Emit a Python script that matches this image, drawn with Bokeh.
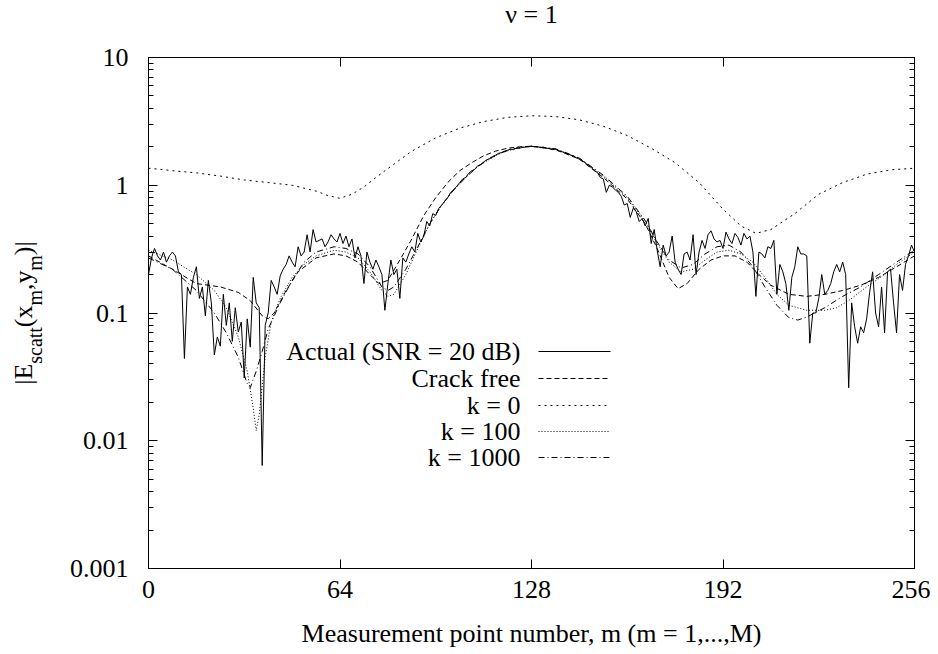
from bokeh.plotting import figure
from bokeh.layouts import row, column
from bokeh.models import (Range1d, FixedTicker, LinearAxis, LogAxis,
                          CustomJSTickFormatter, Label, Arrow)
from bokeh.core.properties import value
from bokeh.embed import file_html
from bokeh.resources import INLINE

# ---------------- data ----------------
actual_m = [0, 1, 2, 3, 4, 5, 6, 7, 8, 9, 10, 11, 12, 13, 14, 15, 16, 17, 18, 19,
            20, 21, 22, 23, 24, 25, 26, 27, 28, 29, 30, 31, 32, 33, 34, 35, 36, 37, 38, 39,
            40, 41, 42, 43, 44, 45, 46, 47, 48, 49, 50, 51, 52, 53, 54, 55, 56, 57, 58, 59,
            60, 61, 62, 63, 64, 65, 66, 67, 68, 69, 70, 71, 72, 73, 74, 75, 76, 77, 78, 79,
            80, 81, 82, 83, 84, 85, 86, 87, 88, 89, 90, 91, 92, 93, 94, 95, 96, 97, 98, 99,
            100, 101, 102, 103, 104, 105, 106, 107, 108, 109, 110, 111, 112, 113, 114, 115,
            116, 117, 118, 119, 120, 121, 122, 123, 124, 125, 126, 127, 128, 129, 130, 131,
            132, 133, 134, 135, 136, 137, 138, 139, 140, 141, 142, 143, 144, 145, 146, 147,
            148, 149, 150, 151, 152, 153, 154, 155, 156, 157, 158, 159, 160, 161, 162, 163,
            164, 165, 166, 167, 168, 169, 170, 171, 172, 173, 174, 175, 176, 177, 178, 179,
            180, 181, 182, 183, 184, 185, 186, 187, 188, 189, 190, 191, 192, 193, 194, 195,
            196, 197, 198, 199, 200, 201, 202, 203, 204, 205, 206, 207, 208, 209, 210, 211,
            212, 213, 214, 215, 216, 217, 218, 219, 220, 221, 222, 223, 224, 225, 226, 227,
            228, 229, 230, 231, 232, 233, 234, 235, 236, 237, 238, 239, 240, 241, 242, 243,
            244, 245, 246, 247, 248, 249, 250, 251, 252, 253, 254, 255, 256]
actual_v = [0.20, 0.27, 0.32, 0.28, 0.26, 0.30, 0.25, 0.28, 0.30, 0.28, 0.21, 0.20, 0.044, 0.16, 0.14, 0.19, 0.23, 0.13, 0.16, 0.095,
            0.18, 0.12, 0.047, 0.065, 0.055, 0.14, 0.08, 0.12, 0.06, 0.11, 0.071, 0.085, 0.031, 0.09, 0.054, 0.19, 0.12, 0.11, 0.0064, 0.08,
            0.10, 0.18, 0.16, 0.14, 0.195, 0.22, 0.24, 0.28, 0.25, 0.23, 0.33, 0.28, 0.30, 0.41, 0.30, 0.45, 0.36, 0.37, 0.38, 0.33,
            0.36, 0.41, 0.38, 0.36, 0.42, 0.35, 0.40, 0.33, 0.38, 0.27, 0.33, 0.28, 0.17, 0.30, 0.25, 0.22, 0.26, 0.23, 0.20, 0.105,
            0.17, 0.26, 0.20, 0.22, 0.13, 0.27, 0.25, 0.29, 0.33, 0.30, 0.42, 0.36, 0.40, 0.52, 0.48, 0.60, 0.58, 0.66, 0.70, 0.75,
            0.80, 0.88, 0.92, 0.98, 1.05, 1.12, 1.15, 1.24, 1.30, 1.33, 1.42, 1.45, 1.52, 1.58, 1.62, 1.68,
            1.72, 1.78, 1.80, 1.85, 1.88, 1.92, 1.90, 1.96, 1.95, 1.98, 1.99, 2.00, 2.02, 2.00, 2.01, 1.97,
            1.99, 1.95, 1.94, 1.90, 1.92, 1.86, 1.84, 1.80, 1.78, 1.72, 1.70, 1.64, 1.60, 1.55, 1.50, 1.42,
            1.38, 1.30, 1.26, 1.15, 1.12, 0.88, 1.00, 0.97, 0.92, 0.88, 0.82, 0.70, 0.72, 0.56, 0.66, 0.62,
            0.52, 0.55, 0.48, 0.55, 0.35, 0.45, 0.31, 0.23, 0.34, 0.28, 0.30, 0.40, 0.25, 0.22, 0.20, 0.29,
            0.30, 0.26, 0.41, 0.20, 0.30, 0.37, 0.32, 0.41, 0.44, 0.38, 0.36, 0.37, 0.32, 0.43, 0.38, 0.35,
            0.42, 0.39, 0.34, 0.42, 0.38, 0.40, 0.30, 0.135, 0.30, 0.29, 0.27, 0.33, 0.32, 0.37, 0.14, 0.24,
            0.21, 0.17, 0.105, 0.19, 0.23, 0.33, 0.29, 0.29, 0.28, 0.058, 0.10, 0.10, 0.13, 0.20, 0.14, 0.15,
            0.17, 0.21, 0.24, 0.21, 0.25, 0.20, 0.026, 0.12, 0.078, 0.058, 0.078, 0.07, 0.09, 0.145, 0.21, 0.10,
            0.078, 0.16, 0.07, 0.21, 0.22, 0.12, 0.07, 0.20, 0.15, 0.24, 0.28, 0.34, 0.30]

crack_m = [0, 8, 16, 24, 30, 34, 38, 40, 42, 46, 50, 56, 62, 66, 70, 74, 77, 80, 84, 88,
           92, 96, 100, 104, 108, 112, 116, 120, 124, 128, 136, 144, 152, 160, 166, 170, 174,
           177, 180, 184, 188, 192, 196, 200, 204, 208, 214, 220, 226, 232, 238, 244, 250, 256]
crack_v = [0.28, 0.22, 0.17, 0.16, 0.145, 0.125, 0.095, 0.09, 0.10, 0.15, 0.21, 0.27, 0.29, 0.28,
           0.25, 0.20, 0.17, 0.18, 0.26, 0.38, 0.58, 0.80, 1.05, 1.30, 1.50, 1.70, 1.85, 1.95, 2.00,
           2.02, 1.90, 1.60, 1.15, 0.78, 0.50, 0.32, 0.19, 0.155, 0.17, 0.22, 0.26, 0.28, 0.28, 0.25,
           0.20, 0.165, 0.14, 0.135, 0.14, 0.15, 0.165, 0.19, 0.23, 0.28]

k0_m = [0, 8, 16, 24, 32, 40, 48, 56, 60, 64, 68, 72, 76, 80, 88, 96, 104, 112, 120, 128,
        136, 144, 152, 160, 168, 176, 184, 192, 198, 203, 208, 216, 224, 232, 240, 248, 256]
k0_v = [1.36, 1.30, 1.25, 1.18, 1.10, 1.05, 1.00, 0.90, 0.83, 0.79, 0.85, 0.97, 1.15, 1.35, 1.85,
        2.35, 2.80, 3.15, 3.40, 3.50, 3.45, 3.25, 2.90, 2.45, 1.95, 1.50, 1.05, 0.65, 0.48, 0.42,
        0.45, 0.60, 0.85, 1.05, 1.22, 1.32, 1.36]

k100_m = [0, 8, 16, 22, 26, 30, 33, 35, 36, 37, 39, 41, 44, 48, 52, 56, 62, 66, 70, 74, 78, 80,
          82, 86, 90, 94, 98, 102, 106, 110, 114, 118, 122, 126, 128, 136, 144, 152, 160, 166,
          170, 174, 178, 182, 186, 190, 194, 198, 202, 206, 210, 214, 220, 226, 230, 234, 240,
          246, 250, 256]
k100_v = [0.31, 0.26, 0.20, 0.15, 0.11, 0.065, 0.035, 0.018, 0.012, 0.016, 0.045, 0.085, 0.13,
          0.19, 0.24, 0.28, 0.31, 0.30, 0.27, 0.21, 0.15, 0.135, 0.14, 0.20, 0.32, 0.50, 0.70,
          0.92, 1.15, 1.40, 1.60, 1.80, 1.92, 2.00, 2.02, 1.92, 1.62, 1.18, 0.80, 0.52, 0.35,
          0.25, 0.21, 0.22, 0.26, 0.30, 0.31, 0.29, 0.25, 0.19, 0.14, 0.115, 0.105, 0.105, 0.11,
          0.125, 0.16, 0.20, 0.24, 0.30]

k1000_m = [0, 8, 16, 22, 26, 30, 33, 34, 36, 38, 40, 44, 48, 52, 56, 62, 66, 70, 74, 78, 80,
           82, 86, 90, 94, 98, 102, 106, 110, 114, 118, 122, 126, 128, 136, 144, 152, 160, 166,
           170, 174, 178, 182, 186, 190, 194, 198, 202, 206, 210, 214, 217, 220, 226, 232, 238,
           244, 250, 256]
k1000_v = [0.27, 0.22, 0.15, 0.10, 0.07, 0.045, 0.028, 0.026, 0.035, 0.05, 0.075, 0.12, 0.18,
           0.25, 0.30, 0.33, 0.32, 0.29, 0.23, 0.16, 0.15, 0.16, 0.22, 0.33, 0.50, 0.70, 0.92,
           1.15, 1.40, 1.62, 1.80, 1.93, 2.00, 2.02, 1.93, 1.63, 1.20, 0.82, 0.53, 0.36, 0.26,
           0.225, 0.24, 0.29, 0.33, 0.34, 0.30, 0.23, 0.16, 0.115, 0.092, 0.088, 0.093, 0.11,
           0.135, 0.16, 0.20, 0.25, 0.31]

x_ticks = [0, 64, 128, 192, 256]
y_ticks = [0.001, 0.01, 0.1, 1, 10]
legend_labels = ["Actual (SNR = 20 dB)", "Crack free", "k = 0", "k = 100", "k = 1000"]
title_text = "\u03bd = 1"
x_label = "Measurement point number, m (m = 1,...,M)"
y_label_parts = ["|E", "scatt", "(x", "m", ",y", "m", ")|"]
y_label_is_sub = [False, True, False, True, False, True, False]

# ---------------- layout constants ----------------
FONT = "Liberation Serif"
FS = 26
SUB = 20
TOP_H = 30        # strip with the title
PH = 620          # height of the plot row
LW = 60           # strip with the y-axis title
PW = 870          # main figure width
BORDER_L, BORDER_R, BORDER_T, BORDER_B = 88, 16, 27, 80
FRAME_H = PH - BORDER_T - BORDER_B
y_minor = [k * t for t in y_ticks[:-1] for k in range(2, 10)]


def bare_strip(w, h, top=0, bottom=0):
    f = figure(width=w, height=h, x_range=Range1d(0, w), y_range=Range1d(0, h - top - bottom),
               output_backend="svg", toolbar_location=None, x_axis_location=None,
               y_axis_location=None, min_border_left=0, min_border_right=0,
               min_border_top=top, min_border_bottom=bottom, title=None)
    f.xgrid.visible = False
    f.ygrid.visible = False
    f.outline_line_color = None
    f.background_fill_color = "white"
    f.border_fill_color = "white"
    return f


p = figure(width=PW, height=PH, x_range=Range1d(0, 256), y_range=Range1d(0.001, 10),
           y_axis_type="log", output_backend="svg", toolbar_location=None, title=None,
           min_border_left=BORDER_L, min_border_right=BORDER_R,
           min_border_top=BORDER_T, min_border_bottom=BORDER_B)
p.xgrid.visible = False
p.ygrid.visible = False
p.outline_line_color = "black"
p.outline_line_width = 1
p.background_fill_color = "white"
p.border_fill_color = "white"

fmt = CustomJSTickFormatter(code="return String(Number(tick.toPrecision(3)))")
blank = CustomJSTickFormatter(code="return ''")

xa = p.xaxis[0]
xa.ticker = FixedTicker(ticks=x_ticks)
xa.major_tick_in = 9
xa.major_tick_out = 0
xa.minor_tick_line_color = None
xa.major_label_standoff = 12
xa.major_label_text_font = FONT
xa.major_label_text_font_size = f"{FS}px"
xa.major_label_text_color = "black"
xa.axis_label = x_label
xa.axis_label_text_font = FONT
xa.axis_label_text_font_size = f"{FS}px"
xa.axis_label_text_font_style = "normal"
xa.axis_label_text_color = "black"
xa.axis_label_standoff = 18
xa.axis_line_color = "black"

ya = p.yaxis[0]
ya.ticker = FixedTicker(ticks=y_ticks, minor_ticks=y_minor)
ya.formatter = fmt
ya.major_tick_in = 9
ya.major_tick_out = 0
ya.minor_tick_in = 5
ya.minor_tick_out = 0
ya.major_label_standoff = 20
ya.major_label_text_font = FONT
ya.major_label_text_font_size = f"{FS}px"
ya.major_label_text_color = "black"
ya.axis_line_color = "black"

top = LinearAxis(ticker=FixedTicker(ticks=x_ticks), formatter=blank, major_tick_in=9,
                 major_tick_out=0, minor_tick_line_color=None, major_label_standoff=0,
                 major_label_text_font_size="1px")
p.add_layout(top, "above")
right = LogAxis(ticker=FixedTicker(ticks=y_ticks, minor_ticks=y_minor), formatter=blank,
                major_tick_in=9, major_tick_out=0, minor_tick_in=5, minor_tick_out=0,
                major_label_standoff=0, major_label_text_font_size="1px")
p.add_layout(right, "right")

# ---------------- series ----------------
styles = [
    (actual_m, actual_v, None),
    (crack_m, crack_v, "5 3"),
    (k0_m, k0_v, "2 4"),
    (k100_m, k100_v, "1 2"),
    (k1000_m, k1000_v, "6 3 1 3"),
]
for xs, ys, dash in styles:
    if dash is None:
        p.line(xs, ys, line_color="black", line_width=1)
    else:
        p.line(xs, ys, line_color="black", line_width=1, line_dash=dash)

# ---------------- gnuplot-style legend (text right, sample after it) ----------------
row_y = [217, 190, 163, 137, 111]
for (xs, ys, dash), lab, ry in zip(styles, legend_labels, row_y):
    p.add_layout(Label(x=372, y=ry, x_units="screen", y_units="screen", text=lab,
                       text_align="right", text_baseline="middle", text_font=FONT,
                       text_font_size=f"{FS}px", text_color="black"))
    kw = dict(line_color="black", line_width=1)
    if dash is not None:
        kw["line_dash"] = dash
    p.add_layout(Arrow(end=None, x_start=390, y_start=ry, x_end=462, y_end=ry,
                       start_units="screen", end_units="screen", **kw))

# ---------------- title strip ----------------
t = bare_strip(LW + PW, TOP_H)
frame_cx = LW + BORDER_L + (PW - BORDER_L - BORDER_R) / 2
t.text(x=[frame_cx], y=[TOP_H - 14], text=[title_text], text_align="center",
       text_baseline="middle", text_font=value(FONT), text_font_size=value(f"{FS}px"),
       text_color="black")

# ---------------- y-axis title strip (with subscripts) ----------------
# its frame is aligned with the main frame, so y here is measured from the frame bottom
q = bare_strip(LW, PH, top=BORDER_T, bottom=BORDER_B)
adv = {"|": 0.2, "E": 0.611, "s": 0.389, "c": 0.444, "a": 0.444, "t": 0.278,
       "(": 0.333, "x": 0.5, "m": 0.778, ",": 0.25, "y": 0.5, ")": 0.333}
sizes = [SUB if s else FS for s in y_label_is_sub]
widths = [sum(adv[c] for c in s_) * s for s_, s in zip(y_label_parts, sizes)]
pos = FRAME_H / 2 - sum(widths) / 2
for s_, s, w, sub in zip(y_label_parts, sizes, widths, y_label_is_sub):
    q.text(x=[34 if sub else 23], y=[pos + w / 2], text=[s_], angle=1.5707963267948966,
           text_align="center", text_baseline="middle", text_font=value(FONT),
           text_font_size=value(f"{s}px"), text_color="black")
    pos += w

layout = column(t, row(q, p, spacing=0), spacing=0)
open("out.html", "w").write(file_html(layout, INLINE))
